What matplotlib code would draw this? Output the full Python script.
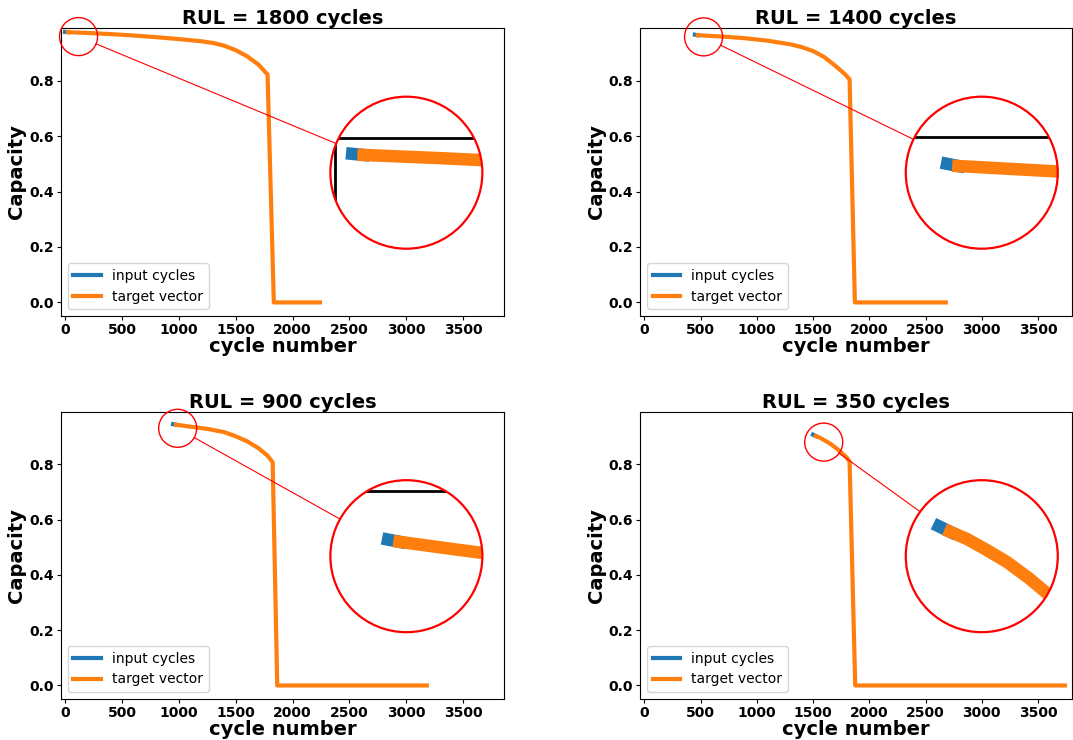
import numpy as np
import matplotlib.pyplot as plt
from matplotlib.patches import Circle
from matplotlib.lines import Line2D

# ---- data ------------------------------------------------------------------
titles = ['RUL = 1800 cycles', 'RUL = 1400 cycles', 'RUL = 900 cycles', 'RUL = 350 cycles']

# input cycles (blue)
in_x1 = [0, 25]
in_y1 = [0.976, 0.975]
in_x2 = [450, 475]
in_y2 = [0.966, 0.964]
in_x3 = [950, 975]
in_y3 = [0.946, 0.944]
in_x4 = [1500, 1525]
in_y4 = [0.908, 0.903]

# target vector (orange)
tg_x1 = [25, 200, 400, 600, 800, 1000, 1200, 1300, 1400, 1500, 1600, 1700, 1780, 1835, 2240]
tg_y1 = [0.975, 0.972, 0.968, 0.963, 0.957, 0.950, 0.942, 0.936, 0.926, 0.910, 0.888, 0.858, 0.822, 0.0, 0.0]
tg_x2 = [475, 700, 900, 1100, 1300, 1400, 1500, 1600, 1700, 1780, 1825, 1872, 2680]
tg_y2 = [0.964, 0.959, 0.953, 0.944, 0.931, 0.921, 0.907, 0.885, 0.853, 0.825, 0.805, 0.0, 0.0]
tg_x3 = [975, 1100, 1250, 1400, 1500, 1600, 1700, 1780, 1825, 1865, 3180]
tg_y3 = [0.944, 0.937, 0.929, 0.917, 0.902, 0.884, 0.859, 0.832, 0.808, 0.0, 0.0]
tg_x4 = [1525, 1560, 1600, 1650, 1700, 1750, 1800, 1825, 1875, 3740]
tg_y4 = [0.903, 0.897, 0.888, 0.876, 0.861, 0.844, 0.825, 0.810, 0.0, 0.0]

# point that is magnified, and where the magnified lens sits (cycle, capacity)
zoom_at = [(119, 0.959), (527, 0.958), (990, 0.931), (1595, 0.881)]
lens_at = [(3000, 0.468), (3000, 0.468), (3000, 0.468), (3000, 0.468)]

inputs = [(in_x1, in_y1), (in_x2, in_y2), (in_x3, in_y3), (in_x4, in_y4)]
targets = [(tg_x1, tg_y1), (tg_x2, tg_y2), (tg_x3, tg_y3), (tg_x4, tg_y4)]

# ---- layout -----------------------------------------------------------------
W, H = 1073, 740
fig = plt.figure(figsize=(W / 100, H / 100), dpi=100)

rects = [[60.7 / W, 1 - 316 / H, 443.3 / W, 288 / H],
         [640 / W, 1 - 316 / H, 432 / W, 288 / H],
         [60.7 / W, 1 - 699 / H, 443.3 / W, 287 / H],
         [640 / W, 1 - 699 / H, 432 / W, 287 / H]]
xlims = [(-38, 3858), (-38, 3802), (-38, 3858), (-38, 3802)]
ylim = (-0.049, 0.99)

r_small = 19   # px
r_big = 76     # px

for i in range(4):
    ax = fig.add_axes(rects[i])
    ix, iy = inputs[i]
    tx, ty = targets[i]
    ax.plot(ix, iy, color='#1f77b4', lw=3, label='input cycles')
    ax.plot(tx, ty, color='#ff7f0e', lw=3, label='target vector')
    ax.set_xlim(xlims[i])
    ax.set_ylim(ylim)
    ax.set_xticks(range(0, 3501, 500))
    ax.set_yticks([0.0, 0.2, 0.4, 0.6, 0.8])
    ax.tick_params(length=3, pad=2)
    for lab in ax.get_xticklabels() + ax.get_yticklabels():
        lab.set_fontweight('bold')
        lab.set_fontsize(10)
    ax.set_title(titles[i], fontsize=14, fontweight='bold', pad=3)
    ax.set_xlabel('cycle number', fontsize=14, fontweight='bold', labelpad=0)
    ax.set_ylabel('Capacity', fontsize=14, fontweight='bold', labelpad=2)
    ax.legend(loc='lower left', fontsize=10)

    # magnifier: small circle -> big lens
    sx, sy = ax.transData.transform(zoom_at[i])
    bx, by = ax.transData.transform(lens_at[i])
    inv = ax.transData.inverted()
    x_lo, y_lo = inv.transform((sx - r_small, sy - r_small))
    x_hi, y_hi = inv.transform((sx + r_small, sy + r_small))

    fig.add_artist(Circle((sx / 100, sy / 100), r_small / 100, transform=fig.dpi_scale_trans,
                          fill=False, edgecolor='red', lw=1))
    d = np.array([bx - sx, by - sy])
    d = d / np.hypot(*d)
    p0 = np.array([sx, sy]) + r_small * d
    p1 = np.array([bx, by]) - r_big * d
    fig.add_artist(Line2D([p0[0] / 100, p1[0] / 100], [p0[1] / 100, p1[1] / 100],
                          transform=fig.dpi_scale_trans, color='red', lw=0.8))

    ax_in = fig.add_axes([(bx - r_big) / W, (by - r_big) / H, 2 * r_big / W, 2 * r_big / H])
    ax_in.axis('off')
    ax_in.set_xlim(x_lo, x_hi)
    ax_in.set_ylim(y_lo, y_hi)
    clip = Circle((0.5, 0.5), 0.5, transform=ax_in.transAxes)
    ax_in.add_patch(Circle((0.5, 0.5), 0.5, transform=ax_in.transAxes,
                           facecolor='white', edgecolor='none', zorder=0))
    l1 = ax_in.axhline(ylim[1], color='black', lw=2)
    l2 = ax_in.axvline(xlims[i][0], color='black', lw=2)
    l3, = ax_in.plot(ix, iy, color='#1f77b4', lw=9)
    l4, = ax_in.plot(tx, ty, color='#ff7f0e', lw=9)
    for ln in (l1, l2, l3, l4):
        ln.set_clip_path(clip)
    ax_in.add_patch(Circle((0.5, 0.5), 0.5, transform=ax_in.transAxes,
                           fill=False, edgecolor='red', lw=1.6, zorder=10, clip_on=False))

fig.savefig('out.png', dpi=100)
